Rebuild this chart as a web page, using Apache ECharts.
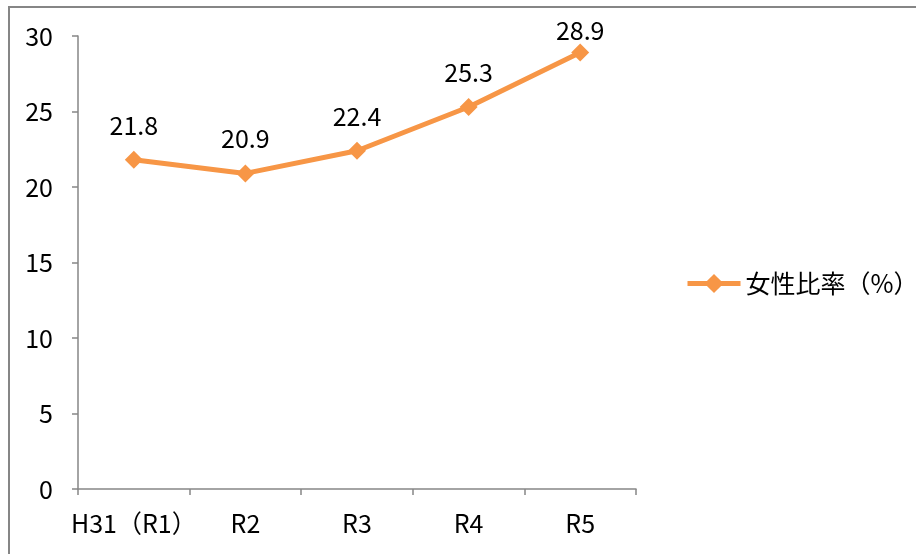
<!DOCTYPE html>
<html>
<head>
<meta charset="utf-8">
<script src="https://cdn.jsdelivr.net/npm/echarts@6/dist/echarts.min.js"></script>
<style>
html,body{margin:0;padding:0;background:#fff;}
#chart{width:916px;height:554px;}
</style>
</head>
<body>
<div id="chart"></div>
<script>
const categories = ['H31（R1）', 'R2', 'R3', 'R4', 'R5'];
const seriesName = '女性比率（%）';
const values = [21.8, 20.9, 22.4, 25.3, 28.9];
const yTicks = [0, 5, 10, 15, 20, 25, 30];

const FONT = 'Noto Sans CJK JP';
const ORANGE = '#F79646';
const GRAY = '#868686';

const chart = echarts.init(document.getElementById('chart'), null, {renderer: 'canvas'});

const dataItems = values.map(function (v, i) {
  const item = {value: v};
  if (i === values.length - 1) {
    item.label = {distance: 1};
  }
  return item;
});

chart.setOption({
  animation: false,
  backgroundColor: '#ffffff',
  textStyle: {fontFamily: FONT},
  graphic: [{
    type: 'rect',
    shape: {x: 9, y: 7, width: 1000, height: 1000},
    style: {fill: 'none', stroke: GRAY, lineWidth: 2},
    silent: true,
    z: 100
  }],
  grid: {left: 78, right: 280, top: 36, bottom: 65, containLabel: false},
  legend: {
    show: true,
    data: [seriesName],
    left: 680,
    top: 266,
    itemWidth: 53,
    itemHeight: 24,
    itemGap: 6,
    textStyle: {fontFamily: FONT, fontSize: 25, color: '#000'},
    lineStyle: {width: 5}
  },
  xAxis: {
    type: 'category',
    data: categories,
    boundaryGap: true,
    axisLine: {show: true, lineStyle: {color: GRAY, width: 1.5}},
    axisTick: {show: true, length: 6, inside: false, interval: 0, alignWithLabel: false, lineStyle: {color: GRAY, width: 1.5}},
    axisLabel: {fontFamily: FONT, fontSize: 25, color: '#000', margin: 22, interval: 0, hideOverlap: false},
    splitLine: {show: false}
  },
  yAxis: {
    type: 'value',
    min: yTicks[0],
    max: yTicks[yTicks.length - 1],
    interval: yTicks[1] - yTicks[0],
    axisLine: {show: true, lineStyle: {color: GRAY, width: 1.5}},
    axisTick: {show: true, length: 6, inside: false, lineStyle: {color: GRAY, width: 1.5}},
    axisLabel: {fontFamily: FONT, fontSize: 25, color: '#000', margin: 25},
    splitLine: {show: false}
  },
  series: [{
    name: seriesName,
    type: 'line',
    data: dataItems,
    symbol: 'diamond',
    symbolSize: 18,
    lineStyle: {color: ORANGE, width: 5},
    itemStyle: {color: ORANGE},
    label: {
      show: true,
      position: 'top',
      distance: 13,
      fontFamily: FONT,
      fontSize: 25,
      color: '#000'
    }
  }]
});
</script>
</body>
</html>
